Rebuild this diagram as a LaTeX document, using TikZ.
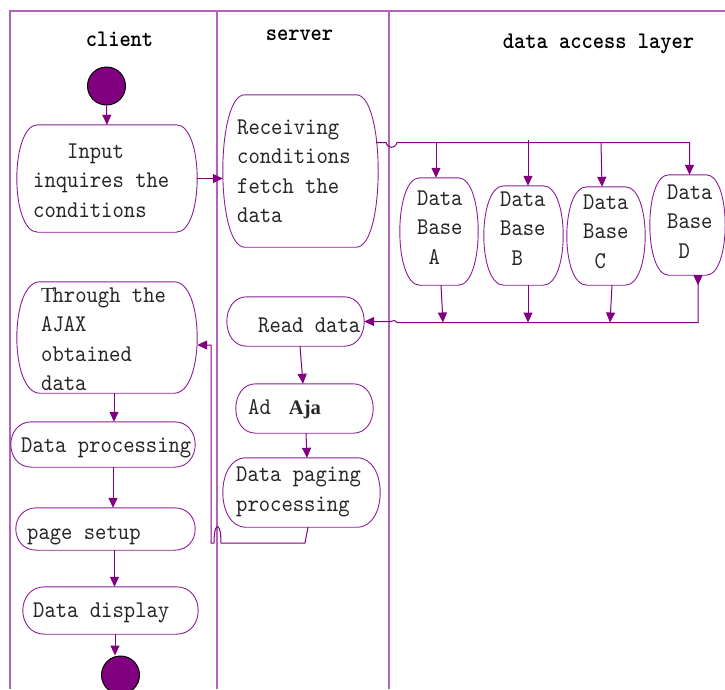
\documentclass[tikz,border=0pt]{standalone}
\usepackage{fontspec}
\usetikzlibrary{arrows.meta,calc}
\setmonofont{lmmono10-regular.otf}[FakeStretch=0.9]
\newfontfamily\headfont{lmmonolt10-bold.otf}[FakeStretch=0.9]
\newfontfamily\libserif{Liberation Serif}
\definecolor{lanec}{RGB}{178,100,188}
\definecolor{connc}{RGB}{128,0,128}
\definecolor{boxc}{RGB}{140,30,150}
\newcommand\boxfont{\fontsize{24}{29.5}\selectfont\ttfamily}
\newcommand\bulgebox[2]{%
  \draw[boxline] ($(#1.north west)+(#2,0)$) -- ($(#1.north east)+(-#2,0)$)
    .. controls ($(#1.north east)+(#2/3,0)$) and ($(#1.south east)+(#2/3,0)$) .. ($(#1.south east)+(-#2,0)$)
    -- ($(#1.south west)+(#2,0)$)
    .. controls ($(#1.south west)+(-#2/3,0)$) and ($(#1.north west)+(-#2/3,0)$) .. cycle;}
\begin{document}
\begin{tikzpicture}[x=1pt,y=-1pt,
  lane/.style={draw=lanec, line width=1.2pt},
  boxline/.style={draw=boxc, line width=0.9pt},
  bx/.style={rectangle, draw=none, inner sep=0},
  conn/.style={draw=connc, line width=1pt, -{Triangle[length=10pt,width=9pt]}},
  plain/.style={draw=connc, line width=1pt},
  txt/.style={font=\boxfont, align=left, inner sep=0, anchor=west, text=black!85},
  head/.style={font=\fontsize{23.8}{26}\selectfont\headfont, inner sep=0, anchor=base},
  dot/.style={circle, fill=connc, draw=black, line width=1pt, minimum size=38, inner sep=0}]
\useasboundingbox (0,0) rectangle (725,689);
% lanes
\draw[lane] (725,11) -- (10,11) -- (10,689);
\draw[lane] (217,11) -- (217,689);
\draw[lane] (389,11) -- (389,689);
% headings
\node[head] (hclient) at (119.5,46.7) {client};
\node[head] (hserver) at (299.5,40.7) {server};
\node[head] (hdal) at (598.5,48.5) {data access layer};
% start / end
\node[dot] (start) at (106.5,86) {};
\node[dot] (endc) at (120.5,675) {};
% boxes
\node[bx, minimum width=180, minimum height=107] (input) at (107,178.5) {};
\node[bx, minimum width=155, minimum height=152] (recv) at (300.5,171) {};
\node[bx, minimum width=180, minimum height=111] (through) at (107,337.5) {};
\node[bx, minimum width=184, minimum height=45] (dproc) at (103,444.5) {};
\node[bx, minimum width=179, minimum height=42] (psetup) at (105.5,529) {};
\node[bx, minimum width=175, minimum height=47] (ddisp) at (110.5,610.5) {};
\node[bx, minimum width=137, minimum height=49] (rdata) at (295.5,321.5) {};
\node[bx, minimum width=137, minimum height=49] (adaja) at (304.5,408.5) {};
\node[bx, minimum width=157, minimum height=69] (dpage) at (301.5,492.5) {};
\node[bx, minimum width=78, minimum height=107] (dbA) at (439,231.5) {};
\node[bx, minimum width=79, minimum height=99] (dbB) at (523.5,235.5) {};
\node[bx, minimum width=78, minimum height=98] (dbC) at (606,236) {};
\node[bx, minimum width=75, minimum height=100] (dbD) at (687.5,225) {};
\bulgebox{input}{21}
\bulgebox{recv}{22}
\bulgebox{through}{23}
\bulgebox{dproc}{21}
\bulgebox{psetup}{21}
\bulgebox{ddisp}{22}
\bulgebox{rdata}{20}
\bulgebox{adaja}{20}
\bulgebox{dpage}{23}
\bulgebox{dbA}{20}
\bulgebox{dbB}{20}
\bulgebox{dbC}{20}
\bulgebox{dbD}{19}
% texts
\node[txt] (inputT) at (33,182) {\phantom{xxx}Input\strut\\inquires the\strut\\conditions\strut};
\node[txt] (recvT) at (237,172.6) {Receiving\strut\\conditions\strut\\fetch the\strut\\data\strut};
\node[txt] (throughT) at (41,340.6) {\makebox[11.4pt][l]{\fontsize{21.5}{29.5}\selectfont\libserif T}hrough the\strut\\AJAX\strut\\obtained\strut\\data\strut};
\node[txt] (dprocT) at (21,446.8) {Data processing\strut};
\node[txt] (psetupT) at (27,534) {page setup\strut};
\node[txt] (ddispT) at (33,611.4) {Data display\strut};
\node[txt] (rdataT) at (258,326.8) {Read data\strut};
\node[txt] (adajaT) at (248,409) {Ad\hspace{18pt}{\fontsize{20.6}{29.5}\selectfont\libserif\bfseries Aja}\strut};
\node[txt] (dpageT) at (236,490.4) {Data paging\strut\\processing\strut};
\node[txt] (dbAT) at (417,228.6) {Data\strut\\Base\strut\\\phantom{x}A\strut};
\node[txt] (dbBT) at (500,229.6) {Data\strut\\Base\strut\\\phantom{x}B\strut};
\node[txt] (dbCT) at (583,232.6) {Data\strut\\Base\strut\\\phantom{x}C\strut};
\node[txt] (dbDT) at (667,222.6) {Data\strut\\Base\strut\\\phantom{x}D\strut};
% helper rows
\coordinate (rowT) at (0,142.5);
\coordinate (rowTb) at (0,140);
\coordinate (rowB) at (0,322.5);
\coordinate (back) at (0,345);
% client connectors
\draw[conn] (start.south) -- (input.north);
\draw[conn] (input.east) -- (recv.west |- input.east);
\draw[conn] ([xshift=7]through.south) -- ([xshift=7]through.south |- dproc.north);
\draw[conn] ([xshift=10]dproc.south) -- ([xshift=10]dproc.south |- psetup.north);
\draw[conn] ([xshift=9]psetup.south) -- ([xshift=9]psetup.south |- ddisp.north);
\draw[conn] ([xshift=4.5]ddisp.south) -- ([xshift=4.5]ddisp.south |- endc.north);
% server connectors
\draw[conn] ([xshift=4.5]rdata.south) -- ([xshift=-1.5]adaja.north);
\draw[conn] ([xshift=1.5]adaja.south) -- ([xshift=5.5]dpage.north);
\draw[conn] ([xshift=6.5]dpage.south) -- (305,543) -- (221,543)
  .. controls (221,521) and (214,521) .. (214,543) -- (211,543) -- (211,345) -- (through.east |- back);
% to databases
\draw[conn] ([xshift=-2]recv.east |- rowT) -- (386,142.5)
  .. controls (388,149) and (395,149) .. (397,142.5)
  -- ([xshift=2]dbD.north |- rowT) -- ([xshift=2]dbD.north);
\draw[conn] ([xshift=-3]dbA.north |- rowT) -- ([xshift=-3]dbA.north);
\draw[conn] ([xshift=4.5]dbB.north |- rowTb) -- ([xshift=4.5]dbB.north);
\draw[conn] ([xshift=-5]dbC.north |- rowT) -- ([xshift=-4]dbC.north);
% from databases
\draw[conn] ([xshift=2]dbA.south) -- ([xshift=4]dbA.south |- rowB);
\draw[conn] ([xshift=4.5]dbB.south) -- ([xshift=4.5]dbB.south |- rowB);
\draw[conn] ([xshift=6]dbC.south) -- ([xshift=4]dbC.south |- rowB);
\draw[conn, {Triangle[length=10pt,width=9pt,reversed]}-{Triangle[length=10pt,width=9pt]}]
  ([xshift=10.5]dbD.south) -- ([xshift=10.5]dbD.south |- rowB) -- (397,322.5)
  .. controls (394,318) and (391,323) .. (388.5,321.5) -- (rdata.east);
\end{tikzpicture}
\end{document}
